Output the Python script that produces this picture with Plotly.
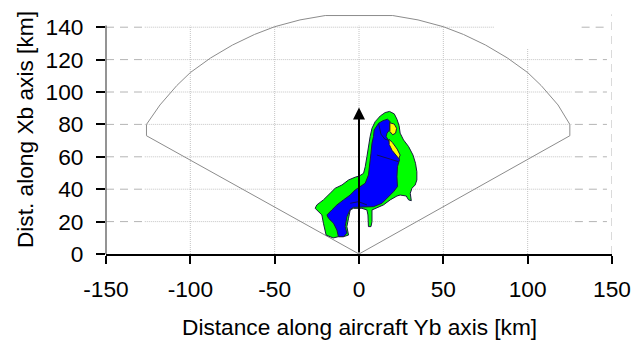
import plotly.graph_objects as go

# ---------------- data (km) ----------------
x_ticks = [-150, -100, -50, 0, 50, 100, 150]
y_ticks = [0, 20, 40, 60, 80, 100, 120, 140]

# radar scan sector outline
sector_x = [0, -126, -126, -118, -108, -100, -88, -75, -62, -50, -35, -20,
            20, 35, 50, 62, 75, 88, 100, 108, 118, 125, 125, 0]
sector_y = [0, 73, 80, 92, 104, 112, 121, 129, 135.5, 140.3, 144.5, 147.2,
            147.2, 144.5, 140.3, 135.5, 129, 121, 112, 104, 92, 80, 73, 0]

# outer (green) echo region
green_x = [18.1, 20.9, 22.5, 23.8, 24.4, 26.4, 29.4, 32.0, 33.5, 34.3, 34.3, 33.3,
           31.4, 30.4, 31.0, 29.4, 28.0, 24.4, 22.5, 18.5, 14.5, 9.6, 7.7, 7.7,
           7.1, 5.6, 5.3, 4.7, 1.7, -3.3, -5.2, -6.2, -7.2, -6.2, -9.2, -12.2,
           -15.3, -19.5, -20.6, -21.1, -22.0, -26.0, -25.0, -21.1, -17.1, -14.1,
           -10.1, -6.2, -2.3, 0.3, 2.7, 3.7, 4.7, 5.6, 6.6, 7.7, 9.6, 12.6, 15.5]
green_y = [88.0, 86.5, 83.2, 79.1, 74.6, 70.4, 66.3, 61.1, 56.0, 50.8, 45.7, 42.6,
           40.6, 37.5, 32.9, 33.4, 35.8, 36.4, 35.8, 33.4, 30.3, 28.2, 27.2, 20.0,
           16.9, 16.9, 24.1, 27.2, 28.2, 28.2, 27.2, 22.1, 16.9, 11.7, 10.7, 10.7,
           9.9, 11.7, 16.1, 19.0, 24.1, 28.2, 30.3, 33.4, 37.5, 40.6,
           42.6, 45.7, 47.4, 48.2, 49.8, 53.9, 60.1, 66.3, 72.5, 77.6, 81.7, 85.2, 87.3]

# inner (blue) echo region
blue_x = [14.2, 16.9, 18.5, 18.1, 18.1, 16.6, 16.1, 17.5, 18.5, 21.5, 23.4, 24.0,
          22.8, 22.5, 22.8, 20.5, 17.5, 13.6, 8.6, 3.7, -0.3, -3.3, -5.2, -7.2,
          -8.2, -7.2, -9.2, -12.2, -13.1, -15.1, -18.1, -19.0, -16.1, -13.1, -9.2,
          -5.2, -2.3, 0.7, 3.7, 5.6, 6.6, 7.1, 7.7, 8.6, 9.0, 11.6]
blue_y = [82.3, 83.2, 81.7, 80.7, 76.6, 74.6, 72.5, 70.4, 68.4, 63.2, 60.1, 58.1,
          53.9, 47.7, 41.6, 38.5, 35.4, 31.3, 29.2, 29.2, 29.2, 28.8, 27.6, 23.0,
          16.9, 12.8, 10.7, 10.7, 14.8, 19.0, 22.1, 24.1, 27.2, 30.3, 33.4,
          36.4, 39.5, 41.6, 43.7, 48.8, 56.0, 62.2, 68.4, 72.5, 76.6, 80.7]

# middle (yellow) echo patches
yellow1_x = [18.3, 20.9, 22.3, 21.7, 20.0, 18.3]
yellow1_y = [81.0, 80.2, 77.6, 74.6, 73.6, 75.6]
yellow2_x = [17.8, 20.0, 22.6, 24.4, 23.6, 21.8, 19.6, 17.9]
yellow2_y = [70.8, 68.6, 64.8, 61.1, 58.9, 60.9, 64.0, 67.6]

# inner contour lines
contour1_x = [10.6, 17.5, 23.4]
contour1_y = [61.1, 59.1, 57.0]
contour2_x = [-5.2, -0.3, 4.7]
contour2_y = [31.3, 32.3, 30.3]
contour3_x = [11.6, 13.0, 15.4, 17.2]
contour3_y = [80.7, 74.0, 70.8, 70.4]

# aircraft heading arrow
arrow_x = [0, 0]
arrow_y = [0, 90.5]

FONT = "Liberation Sans, Arial, sans-serif"
EDGE = "#1a1a40"

fig = go.Figure()

fig.add_trace(go.Scatter(x=sector_x, y=sector_y, mode="lines",
                         line=dict(color="#8c8c8c", width=1), hoverinfo="skip"))
fig.add_trace(go.Scatter(x=green_x + green_x[:1], y=green_y + green_y[:1], mode="lines",
                         fill="toself", fillcolor="#00ff00",
                         line=dict(color=EDGE, width=1), hoverinfo="skip"))
fig.add_trace(go.Scatter(x=blue_x + blue_x[:1], y=blue_y + blue_y[:1], mode="lines",
                         fill="toself", fillcolor="#0000ff",
                         line=dict(color=EDGE, width=1), hoverinfo="skip"))
for xs, ys in [(yellow1_x, yellow1_y), (yellow2_x, yellow2_y)]:
    fig.add_trace(go.Scatter(x=xs + xs[:1], y=ys + ys[:1], mode="lines",
                             fill="toself", fillcolor="#ffff00",
                             line=dict(color=EDGE, width=1), hoverinfo="skip"))
for xs, ys in [(contour1_x, contour1_y), (contour2_x, contour2_y), (contour3_x, contour3_y)]:
    fig.add_trace(go.Scatter(x=xs, y=ys, mode="lines",
                             line=dict(color="#10105a", width=1), hoverinfo="skip"))

shapes = []
grid_dash = dict(color="#b4b4b4", width=1, dash="8px,6px")
grid_dot = dict(color="#c4c4c4", width=1, dash="1px,1px")
for yv in y_ticks[1:]:
    shapes.append(dict(type="line", xref="x", yref="y", x0=-150, x1=-127, y0=yv, y1=yv,
                       line=grid_dash, layer="below"))
    shapes.append(dict(type="line", xref="x", yref="y", x0=128 if yv < 140 else 132,
                       x1=147, y0=yv, y1=yv, line=grid_dash, layer="below"))
    shapes.append(dict(type="line", xref="x", yref="y", x0=-127, x1=126 if yv < 140 else 80,
                       y0=yv, y1=yv, line=grid_dot, layer="below"))
for xv in x_ticks[1:-1]:
    shapes.append(dict(type="line", xref="x", yref="y", x0=xv, x1=xv, y0=0,
                       y1=127 if xv == 100 else 141, line=grid_dot, layer="below"))
# right border (dashed)
shapes.append(dict(type="line", xref="x", yref="y", x0=150, x1=150, y0=0, y1=148,
                   line=dict(color="#b4b4b4", width=1, dash="8px,6px"), layer="below"))
# y axis line
shapes.append(dict(type="line", xref="paper", yref="y", x0=0, x1=0, y0=0, y1=141,
                   line=dict(color="#707070", width=1.5)))

fig.add_annotation(x=arrow_x[1], y=arrow_y[1], ax=arrow_x[0], ay=arrow_y[0],
                   xref="x", yref="y", axref="x", ayref="y", text="", showarrow=True,
                   arrowhead=2, arrowsize=1.2, arrowwidth=2, arrowcolor="black")

fig.add_annotation(x=0, y=-0.300, xref="x", yref="paper", showarrow=False,
                   text="Distance along aircraft Yb axis [km]", xanchor="center",
                   yanchor="middle", font=dict(family=FONT, size=22.7, color="black"))
fig.add_annotation(x=-0.160, y=0.51, xref="paper", yref="paper", showarrow=False,
                   text="Dist. along Xb axis [km]", textangle=-90, xanchor="center",
                   yanchor="middle", font=dict(family=FONT, size=22.7, color="black"))

fig.update_layout(
    width=633, height=341,
    margin=dict(l=106, r=21, t=11, b=87),
    paper_bgcolor="white", plot_bgcolor="white",
    showlegend=False,
    shapes=shapes,
    font=dict(family=FONT, size=22.7, color="black"),
    xaxis=dict(range=[-150, 150], tickvals=x_ticks, ticktext=[str(v) for v in x_ticks],
               showgrid=False, zeroline=False, showline=True, linecolor="black",
               linewidth=1.5, ticks="outside", ticklen=8, tickcolor="black",
               tickwidth=1.5, ticklabelstandoff=6, automargin=False),
    yaxis=dict(range=[0, 150], tickvals=y_ticks, ticktext=[str(v) for v in y_ticks],
               showgrid=False, zeroline=False, showline=False, ticks="outside",
               ticklen=9, tickcolor="black", tickwidth=1.5, ticklabelstandoff=8,
               automargin=False),
)

fig.write_html("out.html")
